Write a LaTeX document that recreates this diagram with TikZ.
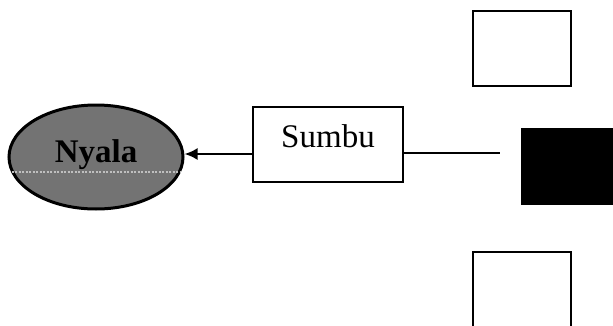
\documentclass[tikz,border=0pt]{standalone}
\usepackage{fontspec}
\setmainfont{Liberation Serif}
\usetikzlibrary{arrows.meta,shapes.geometric}
\begin{document}
\begin{tikzpicture}[x=1pt,y=1pt,
  outline/.style={draw=black,line width=2.2pt},
  blankbox/.style={outline,fill=white,minimum width=98pt,minimum height=75pt,inner sep=0pt},
  link/.style={line width=2.2pt},
  label/.style={font=\fontsize{33}{38}\selectfont}]
\useasboundingbox (0,0) rectangle (613,325);
% wick box and the flame on its left
\node[outline,fill=white,minimum width=150pt,minimum height=75pt,inner sep=0pt] (sumbu) at (328,180.5) {};
\node[label,anchor=base] (sumbutext) at (328,178) {Sumbu};
\node[ellipse,draw=black,line width=3pt,fill=black!55,minimum width=174pt,minimum height=104pt,inner sep=0pt] (flame) at (96,168) {};
\draw[white!75!black,line width=1.2pt,dash pattern=on 2pt off 1.5pt] (flame.west |- 0,153) ++(4,0) -- ([xshift=-4pt]flame.east |- 0,153);
\node[label,font=\fontsize{33}{38}\selectfont\bfseries,text=black] (flametext) at (96,170) {Nyala};
% boxes on the right
\node[blankbox] (top) at (522,276.5) {};
\node[fill=black,minimum width=94pt,minimum height=77pt,inner sep=0pt] (dark) at (568,158.5) {};
\node[blankbox,minimum height=80pt] (bottom) at (522,33) {};
% connectors
\coordinate (lineend) at (500,172);
\draw[link] (sumbu.east |- lineend) -- (lineend);
\draw[link,-{Latex[length=13pt,width=12pt]}] (sumbu.west |- 0,171) -- (flame.east |- 0,171);
\end{tikzpicture}
\end{document}
